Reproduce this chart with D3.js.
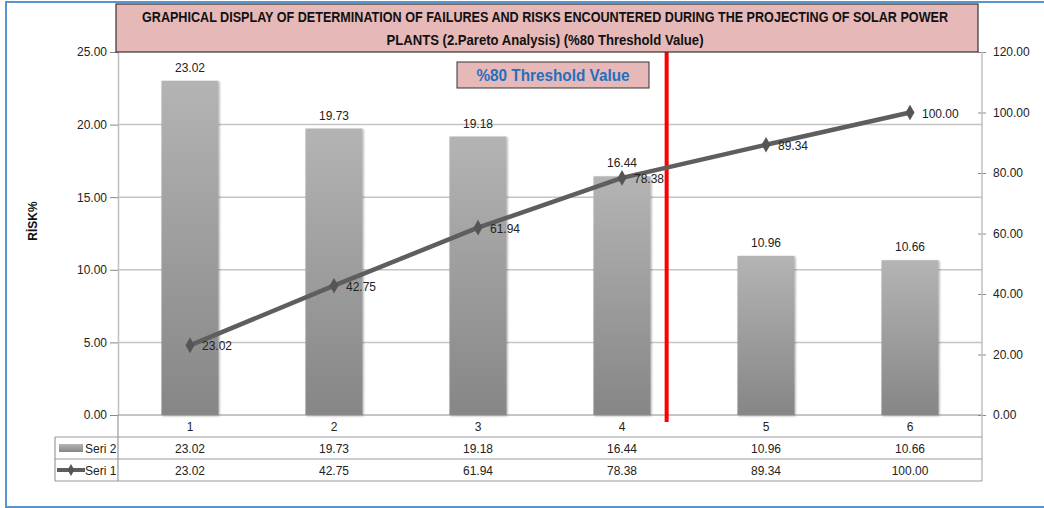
<!DOCTYPE html>
<html>
<head>
<meta charset="utf-8">
<script src="https://cdn.jsdelivr.net/npm/d3@7"></script>
<style>
  body { margin: 0; background: #fff; }
  text { font-family: "Liberation Sans", Arial, sans-serif; }
</style>
</head>
<body>
<script>
var categories = ["1", "2", "3", "4", "5", "6"],
    seri2 = [23.02, 19.73, 19.18, 16.44, 10.96, 10.66],
    seri1 = [23.02, 42.75, 61.94, 78.38, 89.34, 100.00],
    leftTicks = [0, 5, 10, 15, 20, 25],
    rightTicks = [0, 20, 40, 60, 80, 100, 120],
    thresholdAt = 4.31, // red line, in category units
    titleLines = ["GRAPHICAL DISPLAY OF DETERMINATION OF FAILURES AND RISKS ENCOUNTERED DURING THE PROJECTING OF SOLAR POWER",
                  "PLANTS (2.Pareto Analysis) (%80 Threshold Value)"];

var width = 1044, height = 508,
    plotL = 118, plotR = 982, plotT = 52, plotB = 415,
    rowH = 22,
    fmt = d3.format(".2f");

var svg = d3.select("body").append("svg")
    .attr("width", width)
    .attr("height", height);

var defs = svg.append("defs");
var grad = defs.append("linearGradient")
    .attr("id", "barGrad")
    .attr("x1", 0).attr("y1", 0).attr("x2", 0).attr("y2", 1);
grad.append("stop").attr("offset", "0%").attr("stop-color", "#b4b4b4");
grad.append("stop").attr("offset", "100%").attr("stop-color", "#868686");

var shadow = defs.append("filter").attr("id", "soft")
    .attr("x", "-20%").attr("y", "-20%").attr("width", "140%").attr("height", "140%");
shadow.append("feGaussianBlur").attr("in", "SourceAlpha").attr("stdDeviation", 1.2).attr("result", "b");
shadow.append("feOffset").attr("in", "b").attr("dx", 1).attr("dy", 1).attr("result", "o");
shadow.append("feComponentTransfer").attr("in", "o").attr("result", "s")
    .append("feFuncA").attr("type", "linear").attr("slope", 0.35);
var merge = shadow.append("feMerge");
merge.append("feMergeNode").attr("in", "s");
merge.append("feMergeNode").attr("in", "SourceGraphic");

// outer chart frame
svg.append("rect")
    .attr("x", 6).attr("y", 2)
    .attr("width", 1060).attr("height", 505)
    .attr("fill", "none")
    .attr("stroke", "#5b95d0")
    .attr("stroke-width", 2);

var x = d3.scaleBand()
    .domain(categories)
    .range([plotL, plotR])
    .paddingInner(0.604)
    .paddingOuter(0.302);

var xc = d3.scaleLinear()
    .domain([0.5, categories.length + 0.5])
    .range([plotL, plotR]);

var yL = d3.scaleLinear().domain([0, 25]).range([plotB, plotT]);
var yR = d3.scaleLinear().domain([0, 120]).range([plotB, plotT]);

// gridlines
svg.append("g")
    .selectAll("line")
    .data(leftTicks.filter(d => d > 0 && d < 25))
    .enter().append("line")
    .attr("x1", plotL).attr("x2", plotR)
    .attr("y1", d => yL(d)).attr("y2", d => yL(d))
    .attr("stroke", "#c4c4c4")
    .attr("stroke-width", 1.5);

// left axis
var gL = svg.append("g")
    .attr("transform", "translate(" + plotL + ",0)")
    .call(d3.axisLeft(yL).tickValues(leftTicks).tickFormat(fmt).tickSize(8).tickSizeOuter(0));
gL.select(".domain").attr("stroke", "#c0c0c0").attr("stroke-width", 1.5);
gL.selectAll(".tick line").attr("stroke", "#888");
gL.selectAll(".tick text").attr("x", -11).attr("font-size", 12).attr("fill", "#222")
    .style("font-family", "'Liberation Sans', Arial, sans-serif");

// right axis
var gR = svg.append("g")
    .attr("transform", "translate(" + plotR + ",0)")
    .call(d3.axisRight(yR).tickValues(rightTicks).tickFormat(fmt).tickSize(4).tickSizeOuter(0));
gR.select(".domain").remove();
gR.selectAll(".tick line").attr("x1", -4).attr("stroke", "#888");
gR.selectAll(".tick text").attr("x", 11).attr("font-size", 12).attr("fill", "#222")
    .style("font-family", "'Liberation Sans', Arial, sans-serif");

// bars
svg.append("g")
    .selectAll("rect")
    .data(seri2)
    .enter().append("rect")
    .attr("x", (d, i) => x(categories[i]))
    .attr("width", x.bandwidth())
    .attr("y", d => yL(d))
    .attr("height", d => plotB - yL(d))
    .attr("fill", "url(#barGrad)")
    .attr("filter", "url(#soft)");

// bar value labels
svg.append("g")
    .selectAll("text")
    .data(seri2)
    .enter().append("text")
    .attr("x", (d, i) => x(categories[i]) + x.bandwidth() / 2)
    .attr("y", d => yL(d) - 9)
    .attr("text-anchor", "middle")
    .attr("font-size", 12)
    .attr("fill", "#222")
    .text(d => fmt(d));

// x-axis baseline
svg.append("line")
    .attr("x1", plotL).attr("x2", plotR)
    .attr("y1", plotB).attr("y2", plotB)
    .attr("stroke", "#8c8c8c").attr("stroke-width", 1.2);

// right axis line through the table
svg.append("line")
    .attr("x1", plotR).attr("x2", plotR)
    .attr("y1", plotT).attr("y2", plotB + 3 * rowH)
    .attr("stroke", "#c0c0c0").attr("stroke-width", 1.5);

// red threshold line
svg.append("line")
    .attr("x1", xc(thresholdAt)).attr("x2", xc(thresholdAt))
    .attr("y1", plotT).attr("y2", plotB + 7)
    .attr("stroke", "#ff0000").attr("stroke-width", 4);

// cumulative line
var line = d3.line()
    .x((d, i) => x(categories[i]) + x.bandwidth() / 2)
    .y(d => yR(d));

svg.append("path")
    .datum(seri1)
    .attr("d", line)
    .attr("fill", "none")
    .attr("stroke", "#5e5e5e")
    .attr("stroke-width", 4.5)
    .attr("stroke-linejoin", "round");

var diamond = d3.symbol().type(d3.symbolDiamond).size(70);

svg.append("g")
    .selectAll("path")
    .data(seri1)
    .enter().append("path")
    .attr("d", diamond)
    .attr("transform", (d, i) => "translate(" + (x(categories[i]) + x.bandwidth() / 2) + "," + yR(d) + ")")
    .attr("fill", "#555");

svg.append("g")
    .selectAll("text")
    .data(seri1)
    .enter().append("text")
    .attr("x", (d, i) => x(categories[i]) + x.bandwidth() / 2 + 12)
    .attr("y", d => yR(d) + 5)
    .attr("font-size", 12)
    .attr("fill", "#222")
    .text(d => fmt(d));

// data table
var table = svg.append("g");
[1, 2, 3].forEach(function (r) {
    table.append("line")
        .attr("x1", 55).attr("x2", plotR)
        .attr("y1", plotB + r * rowH).attr("y2", plotB + r * rowH)
        .attr("stroke", "#9a9a9a").attr("stroke-width", 1.2);
});
table.append("line")
    .attr("x1", 55).attr("x2", 55)
    .attr("y1", plotB + rowH).attr("y2", plotB + 3 * rowH)
    .attr("stroke", "#9a9a9a").attr("stroke-width", 1.2);
table.append("line")
    .attr("x1", plotL).attr("x2", plotL)
    .attr("y1", plotB).attr("y2", plotB + 3 * rowH)
    .attr("stroke", "#9a9a9a").attr("stroke-width", 1.2);

var rows = [categories, seri2.map(fmt), seri1.map(fmt)];
rows.forEach(function (vals, r) {
    table.append("g")
        .selectAll("text")
        .data(vals)
        .enter().append("text")
        .attr("x", (d, i) => x(categories[i]) + x.bandwidth() / 2)
        .attr("y", plotB + r * rowH + 16)
        .attr("text-anchor", "middle")
        .attr("font-size", 12)
        .attr("fill", "#222")
        .text(d => d);
});

// legend keys in the table
table.append("rect")
    .attr("x", 59).attr("y", plotB + rowH + 7)
    .attr("width", 24).attr("height", 8)
    .attr("fill", "url(#barGrad)");
table.append("line")
    .attr("x1", 57).attr("x2", 85)
    .attr("y1", plotB + 2 * rowH + 11).attr("y2", plotB + 2 * rowH + 11)
    .attr("stroke", "#5e5e5e").attr("stroke-width", 4);
table.append("path")
    .attr("d", d3.symbol().type(d3.symbolDiamond).size(40))
    .attr("transform", "translate(71," + (plotB + 2 * rowH + 11) + ")")
    .attr("fill", "#555");
table.append("text").attr("x", 85).attr("y", plotB + rowH + 16)
    .attr("font-size", 12).attr("fill", "#222").text("Seri 2");
table.append("text").attr("x", 85).attr("y", plotB + 2 * rowH + 16)
    .attr("font-size", 12).attr("fill", "#222").text("Seri 1");

// y-axis title
svg.append("text")
    .attr("transform", "translate(37,221) rotate(-90)")
    .attr("text-anchor", "middle")
    .attr("font-size", 12)
    .attr("font-weight", "bold")
    .attr("fill", "#111")
    .text("RİSK%");

// title box
svg.append("rect")
    .attr("x", 116).attr("y", 4)
    .attr("width", 862).attr("height", 48)
    .attr("fill", "#e6b8b7")
    .attr("stroke", "#333")
    .attr("stroke-width", 1.2);

svg.append("text")
    .attr("x", 545).attr("y", 22)
    .attr("text-anchor", "middle")
    .attr("font-size", 14).attr("font-weight", "bold").attr("fill", "#111")
    .attr("textLength", 806).attr("lengthAdjust", "spacingAndGlyphs")
    .style("font-family", "'Liberation Sans Narrow', 'Liberation Sans', Arial, sans-serif")
    .text(titleLines[0]);
svg.append("text")
    .attr("x", 545).attr("y", 45)
    .attr("text-anchor", "middle")
    .attr("font-size", 14).attr("font-weight", "bold").attr("fill", "#111")
    .attr("textLength", 317).attr("lengthAdjust", "spacingAndGlyphs")
    .style("font-family", "'Liberation Sans Narrow', 'Liberation Sans', Arial, sans-serif")
    .text(titleLines[1]);

// threshold label
svg.append("rect")
    .attr("x", 457).attr("y", 62)
    .attr("width", 192).attr("height", 26)
    .attr("fill", "#e6b8b7")
    .attr("stroke", "#333")
    .attr("stroke-width", 1);
svg.append("text")
    .attr("x", 553).attr("y", 81)
    .attr("text-anchor", "middle")
    .attr("font-size", 16).attr("font-weight", "bold").attr("fill", "#1f70c1")
    .attr("textLength", 153).attr("lengthAdjust", "spacingAndGlyphs")
    .text("%80 Threshold Value");
</script>
</body>
</html>
